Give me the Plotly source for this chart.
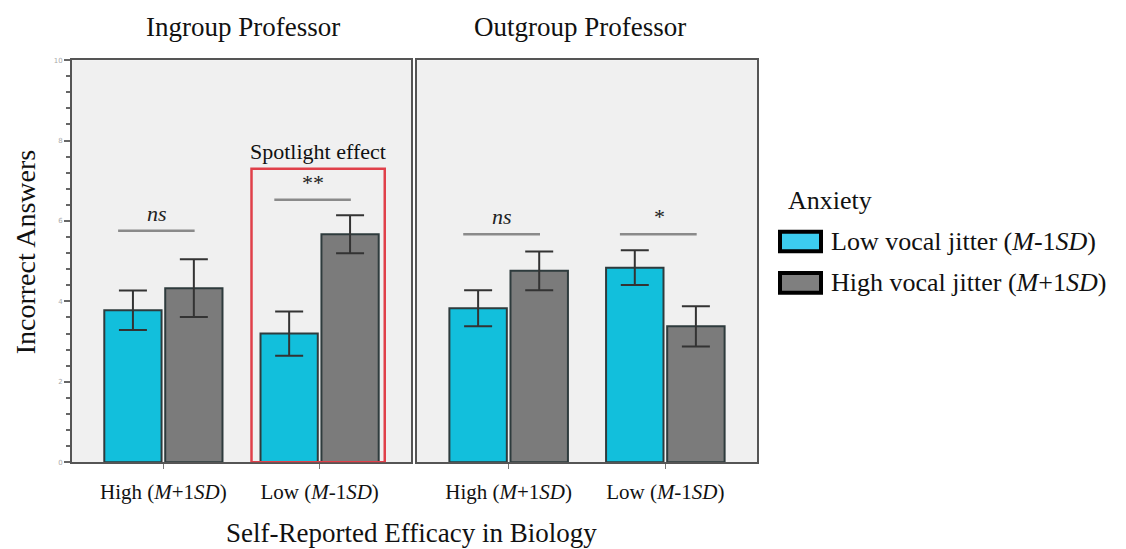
import plotly.graph_objects as go

# Self-reported efficacy categories (x axis of each panel)
efficacy = ["High (<i>M</i>+1<i>SD</i>)", "Low (<i>M</i>-1<i>SD</i>)"]

# Mean incorrect answers and standard errors
ingroup_low_jitter = [3.78, 3.20]
ingroup_low_jitter_err = [0.49, 0.55]
ingroup_high_jitter = [4.33, 5.67]
ingroup_high_jitter_err = [0.72, 0.47]

outgroup_low_jitter = [3.83, 4.84]
outgroup_low_jitter_err = [0.45, 0.43]
outgroup_high_jitter = [4.76, 3.38]
outgroup_high_jitter_err = [0.48, 0.50]

# Significance brackets: panel, category index, height, label
sig_panel = ["x", "x", "x2", "x2"]
sig_category = [0, 1, 0, 1]
sig_height = [5.76, 6.53, 5.67, 5.67]
sig_label = ["<i>ns</i>", "**", "<i>ns</i>", "*"]

series_names = ["Low vocal jitter (<i>M</i>-1<i>SD</i>)",
                "High vocal jitter (<i>M</i>+1<i>SD</i>)"]

W, H = 1126, 549
FONT = "Liberation Serif"
CYAN = "#12bfdc"
GRAY = "#7b7b7b"
EDGE = "#2e3b3d"


def px_x(p):
    return p / W


def px_y(p):
    return 1 - p / H


fig = go.Figure()


def add_bar(x, y, err, color, xaxis, yaxis):
    fig.add_trace(go.Bar(
        x=x, y=y, xaxis=xaxis, yaxis=yaxis,
        marker=dict(color=color, line=dict(color=EDGE, width=2)),
        error_y=dict(type="data", array=err, color="#333333", thickness=2, width=14),
        showlegend=False,
    ))


add_bar(efficacy, ingroup_low_jitter, ingroup_low_jitter_err, CYAN, "x", "y")
add_bar(efficacy, ingroup_high_jitter, ingroup_high_jitter_err, GRAY, "x", "y")
add_bar(efficacy, outgroup_low_jitter, outgroup_low_jitter_err, CYAN, "x2", "y2")
add_bar(efficacy, outgroup_high_jitter, outgroup_high_jitter_err, GRAY, "x2", "y2")

xcommon = dict(
    type="category", categoryorder="array", categoryarray=efficacy,
    range=[-0.585, 1.585],
    showline=True, linecolor="#555555", linewidth=2, mirror=True,
    ticks="outside", ticklen=5, tickcolor="#777777", ticklabelstandoff=5,
    tickfont=dict(family=FONT, size=21, color="#111111"),
    showgrid=False, zeroline=False, fixedrange=True,
)
ycommon = dict(
    domain=[px_y(465), px_y(57)], range=[0, 10],
    showline=True, linecolor="#555555", linewidth=2, mirror=True,
    showgrid=False, zeroline=False, fixedrange=True,
)

fig.update_layout(
    width=W, height=H, autosize=False,
    margin=dict(l=0, r=0, t=0, b=0),
    paper_bgcolor="white", plot_bgcolor="#f0f0f0",
    barmode="group", bargap=0.22, bargroupgap=0.06,
    showlegend=False,
    xaxis=dict(domain=[px_x(72), px_x(411)], anchor="y", **xcommon),
    xaxis2=dict(domain=[px_x(417), px_x(757)], anchor="y2", **xcommon),
    yaxis=dict(
        anchor="x",
        tickvals=[0, 2, 4, 6, 8, 10], ticks="outside", ticklen=6,
        tickcolor="#666666", tickwidth=2,
        minor=dict(dtick=0.4, ticks="outside", ticklen=4, tickcolor="#666666", tickwidth=2),
        tickfont=dict(family="DejaVu Sans", size=7, color="#aaaaaa"),
        **ycommon,
    ),
    yaxis2=dict(anchor="x2", showticklabels=False, ticks="", **ycommon),
)

# Significance lines and labels
for panel, cat, h, lab in zip(sig_panel, sig_category, sig_height, sig_label):
    yref = "y" if panel == "x" else "y2"
    fig.add_shape(type="line", xref=panel, yref=yref,
                  x0=cat - 0.29, x1=cat + 0.2, y0=h, y1=h,
                  line=dict(color="#8a8a8a", width=2.5))
    fig.add_annotation(x=cat - 0.04, y=h, xref=panel, yref=yref,
                       text=lab, showarrow=False, yanchor="bottom", yshift=3,
                       font=dict(family=FONT, size=22, color="#222222"))

# Highlight box around the ingroup low-efficacy pair
fig.add_shape(type="rect", xref="x", yref="y",
              x0=1 - 0.436, x1=1 + 0.417, y0=0, y1=7.3,
              line=dict(color="#e0404a", width=2.5), fillcolor="rgba(0,0,0,0)")
fig.add_annotation(x=0.99, y=7.3, xref="x", yref="y", text="Spotlight effect",
                   showarrow=False, yanchor="bottom", yshift=3,
                   font=dict(family=FONT, size=22, color="#111111"))


def paper_text(x, y, text, size, **kw):
    opts = dict(xanchor="center", yanchor="middle")
    opts.update(kw)
    fig.add_annotation(x=px_x(x), y=px_y(y), xref="paper", yref="paper",
                       text=text, showarrow=False,
                       font=dict(family=FONT, size=size, color="#111111"), **opts)


# Panel titles
paper_text(243, 23, "Ingroup Professor", 27)
paper_text(580, 23, "Outgroup Professor", 27)

# Axis titles
paper_text(25, 252, "Incorrect Answers", 28, textangle=-90)
paper_text(411, 537, "Self-Reported Efficacy in Biology", 27)

# Legend
paper_text(786, 199, "Anxiety", 26, xanchor="left")
legend_fill = ["#3ccdf0", "#7f7f7f"]
legend_rows = [241, 283]
for name, fill, yc in zip(series_names, legend_fill, legend_rows):
    fig.add_shape(type="rect", xref="paper", yref="paper",
                  x0=px_x(780), x1=px_x(821), y0=px_y(yc + 10), y1=px_y(yc - 10),
                  line=dict(color="#000000", width=4), fillcolor=fill)
    paper_text(829, yc, name, 26, xanchor="left")

fig.write_html("out.html")
